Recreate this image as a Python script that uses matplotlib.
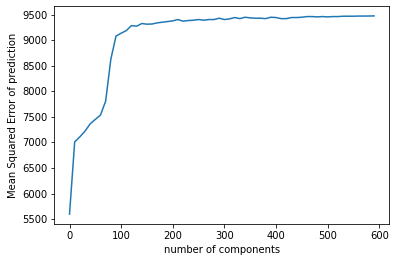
import matplotlib
matplotlib.use("Agg")
import matplotlib.pyplot as plt

# number of components vs. MSE
components = list(range(0, 600, 10))
mse = [5598, 7010, 7108, 7220, 7363, 7450, 7535, 7808, 8625, 9077,
       9135, 9186, 9284, 9272, 9324, 9311, 9315, 9337, 9350, 9363,
       9376, 9402, 9370, 9382, 9389, 9402, 9389, 9402, 9402, 9428,
       9402, 9415, 9441, 9420, 9447, 9434, 9428, 9428, 9420, 9447,
       9441, 9420, 9420, 9441, 9441, 9447, 9460, 9460, 9454, 9460,
       9454, 9460, 9460, 9467, 9467, 9467, 9470, 9470, 9471, 9473]

fig = plt.figure(figsize=(395 / 72, 262 / 72), dpi=72)
ax = fig.add_axes([54.3 / 395, 1 - 224 / 262, (389.3 - 54.3) / 395, (224 - 6) / 262])
ax.plot(components, mse)
ax.set_xlabel('number of components')
ax.set_ylabel('Mean Squared Error of prediction')
fig.savefig('out.png', dpi=72)
